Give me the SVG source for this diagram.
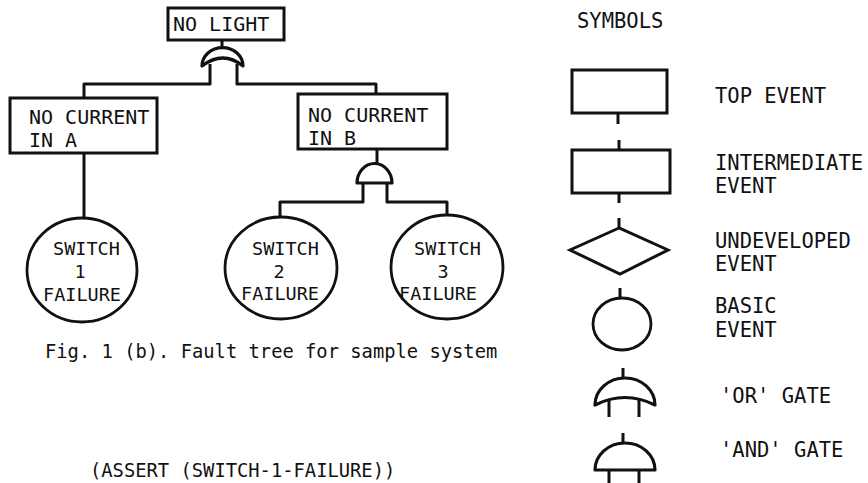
<svg xmlns="http://www.w3.org/2000/svg" width="868" height="483" viewBox="0 0 868 483">
  <style>
    .box { fill: #fff; stroke: #111; stroke-width: 3; }
    .ev { fill: #fff; stroke: #111; stroke-width: 2.8; }
    .ln { fill: none; stroke: #111; stroke-width: 3; stroke-linejoin: round; }
    .gate { fill: #fff; stroke: #111; stroke-width: 3.2; stroke-linejoin: round; }
    text { font-family: "DejaVu Sans Mono", "Liberation Mono", monospace; fill: #111; }
    .lbl { font-size: 20px; }
    .sw { font-size: 18.5px; }
    .leg { font-size: 20.5px; }
    .cap { font-size: 18.8px; }
  </style>
  <rect width="868" height="483" fill="#fff"/>

  <!-- connectors of the fault tree -->
  <g id="connectors">
    <path class="ln" d="M222,40 V49"/>
    <path class="ln" d="M210,64 V84 H84 V98"/>
    <path class="ln" d="M237,64 V84 H376 V94"/>
    <path class="ln" d="M84,153 V218"/>
    <path class="ln" d="M377,149 V164"/>
    <path class="ln" d="M363,183 V202 H280 V217"/>
    <path class="ln" d="M387,183 V202 H447 V215"/>
  </g>

  <!-- top event -->
  <g id="no-light">
    <rect class="box" x="168" y="8" width="116" height="32"/>
    <text class="lbl" x="173" y="31">NO LIGHT</text>
  </g>

  <!-- OR gate under the top event -->
  <g id="or-gate-top">
    <path class="gate" d="M202,66 A20,18 0 0 1 243,66 Q223,50 202,66 Z"/>
  </g>

  <g id="no-current-a">
    <rect class="box" x="10" y="98" width="147" height="55"/>
    <text class="lbl" x="29" y="124">NO CURRENT</text>
    <text class="lbl" x="29" y="147">IN A</text>
  </g>

  <g id="no-current-b">
    <rect class="box" x="298" y="94" width="149" height="55"/>
    <text class="lbl" x="308" y="122">NO CURRENT</text>
    <text class="lbl" x="308" y="145">IN B</text>
  </g>

  <!-- AND gate under B -->
  <g id="and-gate-b">
    <path class="gate" d="M357,183 A17.5,19.5 0 0 1 392,183 Z"/>
  </g>

  <g id="switch-1">
    <ellipse class="ev" cx="82" cy="270" rx="55" ry="52"/>
    <text class="sw" x="53" y="255">SWITCH</text>
    <text class="sw" x="80" y="278" text-anchor="middle">1</text>
    <text class="sw" x="43" y="301">FAILURE</text>
  </g>

  <g id="switch-2">
    <ellipse class="ev" cx="281" cy="268" rx="56" ry="51"/>
    <text class="sw" x="252" y="255">SWITCH</text>
    <text class="sw" x="279" y="278" text-anchor="middle">2</text>
    <text class="sw" x="241" y="300">FAILURE</text>
  </g>

  <g id="switch-3">
    <ellipse class="ev" cx="447" cy="267" rx="56" ry="52"/>
    <text class="sw" x="414" y="255">SWITCH</text>
    <text class="sw" x="443" y="278" text-anchor="middle">3</text>
    <text class="sw" x="399" y="300">FAILURE</text>
  </g>

  <text class="cap" x="45" y="358">Fig. 1 (b). Fault tree for sample system</text>
  <text class="cap" x="90" y="477">(ASSERT (SWITCH-1-FAILURE))</text>

  <!-- symbol key -->
  <g id="legend">
    <text class="leg" x="577" y="28">SYMBOLS</text>

    <g id="key-top">
      <rect class="box" x="572" y="70" width="95" height="43"/>
      <path class="ln" d="M618,113 V124"/>
      <text class="leg" x="715" y="103">TOP EVENT</text>
    </g>

    <g id="key-intermediate">
      <path class="ln" d="M619,140 V150 M619,193 V203"/>
      <rect class="box" x="572" y="150" width="98" height="43"/>
      <text class="leg" x="715" y="170">INTERMEDIATE</text>
      <text class="leg" x="715" y="193">EVENT</text>
    </g>

    <g id="key-undeveloped">
      <path class="ln" d="M619,218 V228"/>
      <polygon class="box" points="619,228 570,250 620,274 668,250"/>
      <text class="leg" x="715" y="248">UNDEVELOPED</text>
      <text class="leg" x="715" y="271">EVENT</text>
    </g>

    <g id="key-basic">
      <path class="ln" d="M620,288 V298"/>
      <ellipse class="ev" cx="622" cy="324" rx="29" ry="26"/>
      <text class="leg" x="715" y="313">BASIC</text>
      <text class="leg" x="715" y="337">EVENT</text>
    </g>

    <g id="key-or">
      <path class="ln" d="M623,368 V378 M609,400 V417 M639,400 V417"/>
      <path class="gate" d="M595,405 A30,27 0 0 1 655,405 Q625,390 595,405 Z"/>
      <text class="leg" x="720" y="403">'OR' GATE</text>
    </g>

    <g id="key-and">
      <path class="ln" d="M623,433 V443 M609,470 V483 M639,470 V483"/>
      <path class="gate" d="M595,470 A30,27 0 0 1 655,470 Z"/>
      <text class="leg" x="720" y="457">'AND' GATE</text>
    </g>
  </g>
</svg>
